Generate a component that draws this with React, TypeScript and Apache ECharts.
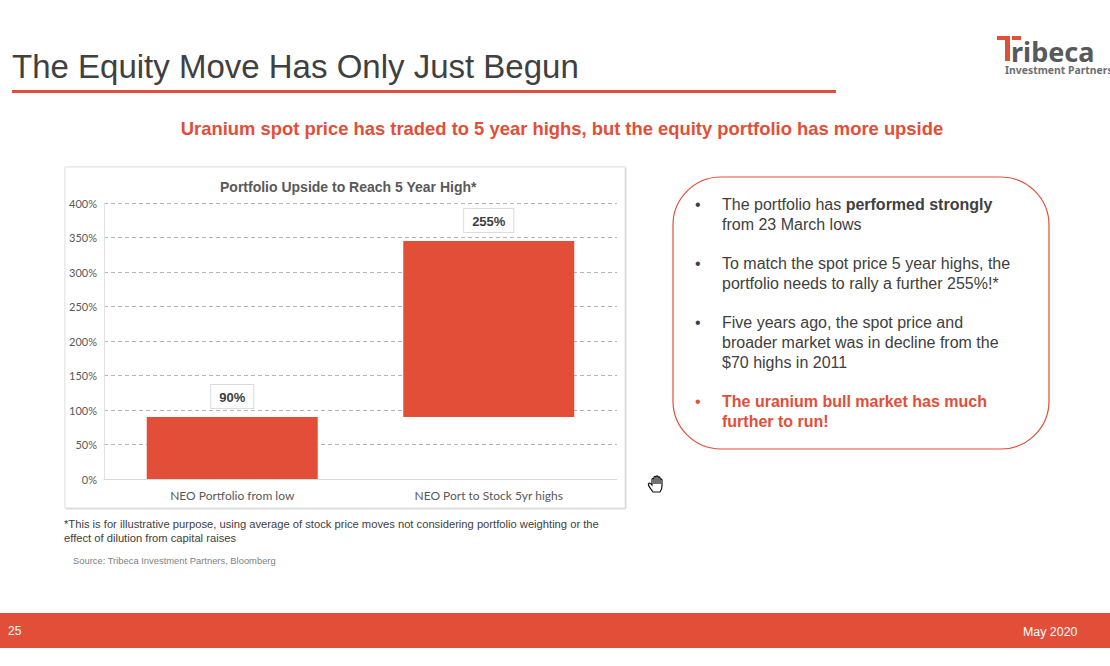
import React, { useEffect, useRef } from "react";
import * as echarts from "echarts";

const categories = ["NEO Portfolio from low", "NEO Port to Stock 5yr highs"];
const baseValues = [0, 90];
const upsideValues = [90, 255];
const pageTitle = "The Equity Move Has Only Just Begun";
const subtitle = "Uranium spot price has traded to 5 year highs, but the equity portfolio has more upside";
const chartTitle = "Portfolio Upside to Reach 5 Year High*";
const footnotes = [
  "*This is for illustrative purpose, using average of stock price moves not considering portfolio weighting or the",
  "effect of dilution from capital raises",
];
const source = "Source: Tribeca Investment Partners, Bloomberg";
const bulletLines: { y: number; text: string; bullet?: boolean; red?: boolean }[] = [
  { y: 204, text: "The portfolio has {b|performed strongly}", bullet: true },
  { y: 224, text: "from 23 March lows" },
  { y: 263, text: "To match the spot price 5 year highs, the", bullet: true },
  { y: 283, text: "portfolio needs to rally a further 255%!*" },
  { y: 322, text: "Five years ago, the spot price and", bullet: true },
  { y: 342, text: "broader market was in decline from the" },
  { y: 362, text: "$70 highs in 2011" },
  { y: 401, text: "{r|The uranium bull market has much}", bullet: true, red: true },
  { y: 421, text: "{r|further to run!}", red: true },
];

const RED = "#E34E38";
const DARK = "#404040";
const SANS = '"Liberation Sans", Arial, sans-serif';

echarts.graphic.registerShape(
  "handCursor",
  echarts.graphic.extendPath(
    "M5 17 C3.5 15 1 11.5 0.5 10 C0 8.5 1.5 7.6 2.6 8.6 L4 10 L4 4.5 C4 3 6 3 6 4.5 L6 2.5 C6 1 8 1 8 2.5 L8 2 C8 0.5 10 0.5 10 2 L10 3 C10 1.6 12 1.6 12 3 L12 4.8 C12 3.6 14 3.6 14 5 L14 11 C14 14 13 15.5 12 17 Z M6 4.5 L6 9 M8 2.5 L8 9 M10 3 L10 9 M12 4.8 L12 9",
    {}
  )
);

function txt(x: number, y: number, text: string, font: string, fill: string, extra: any = {}) {
  return {
    type: "text",
    x,
    y,
    silent: true,
    style: { text, font, fill, verticalAlign: "middle", align: "left", ...extra },
  };
}

export default function App() {
  const ref = useRef<HTMLDivElement>(null);
  useEffect(() => {
    document.body.style.margin = "0";
    const chart = echarts.init(ref.current!, undefined, { renderer: "svg" });
    const graphics: any[] = [
      { type: "rect", z: -1, silent: true, shape: { x: 65, y: 167, width: 560, height: 341 }, style: { fill: "#fff", stroke: "#e6e6e6", lineWidth: 1, shadowBlur: 1, shadowColor: "#bbb", shadowOffsetX: 0.5, shadowOffsetY: 0.5 } },
      txt(12, 66, pageTitle, `33px ${SANS}`, DARK),
      { type: "rect", silent: true, shape: { x: 12, y: 90, width: 824, height: 3 }, style: { fill: RED } },
      txt(562, 128, subtitle, `bold 18.4px ${SANS}`, RED, { align: "center" }),
      // logo
      { type: "rect", silent: true, shape: { x: 997, y: 36, width: 13, height: 4 }, style: { fill: RED } },
      { type: "rect", silent: true, shape: { x: 1012, y: 36, width: 9, height: 4 }, style: { fill: RED } },
      { type: "rect", silent: true, shape: { x: 1005, y: 36, width: 5, height: 25 }, style: { fill: RED } },
      txt(1011, 51, "ribeca", `bold 27px "Noto Sans", ${SANS}`, "#58595b"),
      txt(1005, 70, "Investment Partners", `bold 10.4px "Noto Sans", ${SANS}`, "#6d6e71"),
      // call-out
      { type: "rect", silent: true, shape: { x: 673, y: 177, width: 376, height: 272, r: 48 }, style: { fill: "#fff", stroke: RED, lineWidth: 1.2 } },
      ...bulletLines.flatMap((l) => {
        const out: any[] = [];
        if (l.bullet) out.push(txt(695, l.y, "•", `16px ${SANS}`, l.red ? RED : DARK));
        out.push({
          type: "text",
          x: 722,
          y: l.y,
          silent: true,
          style: {
            text: l.text,
            font: `16px ${SANS}`,
            fill: DARK,
            verticalAlign: "middle",
            rich: {
              b: { font: `bold 16px ${SANS}`, fill: DARK, color: DARK },
              r: { font: `bold 16px ${SANS}`, fill: RED, color: RED },
            },
          },
        });
        return out;
      }),
      // notes
      txt(64, 524, footnotes[0], `11.2px ${SANS}`, DARK),
      txt(64, 538, footnotes[1], `11.2px ${SANS}`, DARK),
      txt(73, 560, source, `9.4px ${SANS}`, "#7f7f7f"),
      // cursor
      { type: "handCursor", silent: true, x: 648, y: 475, style: { fill: "#fff", stroke: "#111", lineWidth: 1.2 } },
      // footer
      { type: "rect", silent: true, shape: { x: 0, y: 613, width: 1110, height: 35 }, style: { fill: RED } },
      txt(8, 631, "25", `12px ${SANS}`, "#fff"),
      txt(1023, 632, "May 2020", `12.4px ${SANS}`, "#fff"),
    ];
    chart.setOption({
      animation: false,
      backgroundColor: "#fff",
      title: {
        text: chartTitle,
        left: 215,
        top: 175,
        textStyle: { fontFamily: SANS, fontWeight: "bold", fontSize: 14, color: "#595959" },
      },
      grid: { left: 104, right: 493, top: 203, bottom: 187, containLabel: false },
      xAxis: {
        type: "category",
        data: categories,
        axisTick: { show: false },
        axisLine: { lineStyle: { color: "#d9d9d9" } },
        axisLabel: { fontFamily: "Lato", fontSize: 12, color: "#595959", margin: 10 },
      },
      yAxis: {
        type: "value",
        min: 0,
        max: 400,
        interval: 50,
        axisLine: { show: true, lineStyle: { color: "#e2e2e2" } },
        axisTick: { show: false },
        axisLabel: { fontFamily: "Lato", fontSize: 11, color: "#595959", margin: 7, formatter: "{value}%" },
        splitLine: { lineStyle: { type: [4, 3], color: "#b5b5b5" } },
      },
      series: [
        {
          type: "bar",
          name: "base",
          stack: "total",
          data: baseValues,
          barWidth: 171,
          itemStyle: { color: "transparent" },
          silent: true,
        },
        {
          type: "bar",
          name: "upside",
          stack: "total",
          data: upsideValues,
          barWidth: 171,
          itemStyle: { color: RED },
          label: {
            show: true,
            position: "top",
            distance: 9,
            formatter: (p: any) => `${p.value}%`,
            fontFamily: SANS,
            fontWeight: "bold",
            fontSize: 13,
            color: "#404040",
            backgroundColor: "#fff",
            borderColor: "#dcdcdc",
            borderWidth: 1,
            padding: [6, 8, 4, 8],
          },
        },
      ],
      graphic: graphics,
    });
    return () => chart.dispose();
  }, []);
  return <div ref={ref} style={{ width: 1110, height: 666, position: "absolute", left: 0, top: 0 }} />;
}
